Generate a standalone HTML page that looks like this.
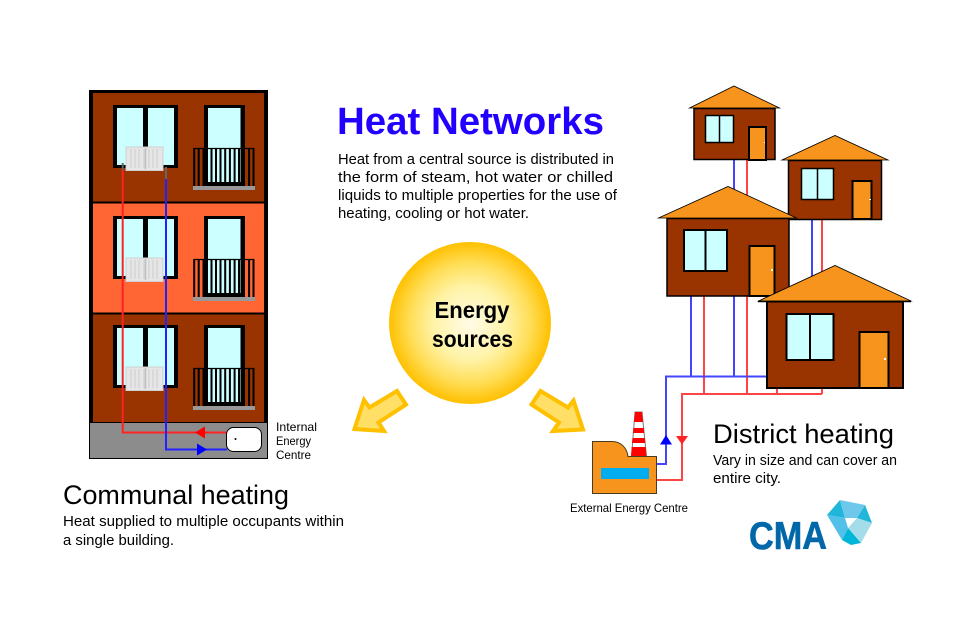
<!DOCTYPE html>
<html><head><meta charset="utf-8"><style>
html,body{margin:0;padding:0;background:#fff}
svg{display:block}
text{font-family:"Liberation Sans",sans-serif;fill:#000}
</style></head><body>
<svg width="960" height="640" viewBox="0 0 960 640" xmlns="http://www.w3.org/2000/svg">
<defs>
<radialGradient id="sun"><stop offset="0" stop-color="#fffbe6"/><stop offset=".45" stop-color="#fff3a8"/><stop offset=".75" stop-color="#ffdd55"/><stop offset="1" stop-color="#ffc000"/></radialGradient>
<g id="rad">
<rect x="126" y="147" width="37" height="23.500" fill="#e6e6e6" stroke="#cfcfcf"/>
<path d="M131 149v19M135 149v19M139 149v19M144 149v19M149 149v19M153 149v19M157 149v19" stroke="#cccccc" stroke-width="1"/>
<path d="M145.500 148v21" stroke="#c0c0c0" stroke-width="1.500"/>
</g>
<g id="win">
<rect x="113" y="105" width="65" height="63" fill="#000"/>
<rect x="117" y="108" width="26" height="57" fill="#ccffff"/>
<rect x="148" y="108" width="26" height="57" fill="#ccffff"/>
<rect x="204" y="105" width="41" height="81" fill="#000"/>
<rect x="208" y="108" width="32.500" height="74" fill="#ccffff"/>
<path d="M193.500 148.500H254.500" stroke="#000" stroke-width="1.200"/>
<path d="M194.200 148v38M198.700 148v38M203.500 148v38M249.100 148v38M253.500 148v38" stroke="#000" stroke-width="2"/>
<path d="M211.500 148v34M216 148v34M220.500 148v34M225.200 148v34M229.900 148v34M234.600 148v34M239 148v34" stroke="#000" stroke-width="2"/>
<rect x="193" y="186" width="62" height="4" fill="#999"/>
</g>
</defs>

<!-- Building -->
<rect x="89" y="90" width="179" height="333" fill="#000"/>
<rect x="93" y="93" width="171" height="108.500" fill="#993300"/>
<rect x="93" y="203.500" width="171" height="109" fill="#ff6633"/>
<rect x="93" y="314.500" width="171" height="107.500" fill="#993300"/>
<rect x="89.500" y="422.500" width="178" height="36" fill="#8c8c8c" stroke="#000"/>
<use href="#win"/>
<use href="#win" y="111"/>
<use href="#win" y="220"/>

<!-- Building pipes -->
<path d="M122.700 169V432.500H227" fill="none" stroke="#ff2222" stroke-width="2"/>
<path d="M166 179V449.500H227" fill="none" stroke="#2222ff" stroke-width="2"/>
<path d="M166 167V179M122.700 163V170" stroke="#666" stroke-width="2"/>
<use href="#rad"/>
<use href="#rad" y="111"/>
<use href="#rad" y="220"/>
<path d="M195 432.500L205 426.500V438.500Z" fill="#ff0000"/>
<path d="M207 449.500L197 443.500V455.500Z" fill="#0000ff"/>
<rect x="226.500" y="427.500" width="35" height="24" rx="7" fill="#fff" stroke="#000"/>
<circle cx="235.500" cy="439" r="1" fill="#000"/>
<text x="276" y="431" font-size="12" textLength="41" lengthAdjust="spacingAndGlyphs">Internal</text>
<text x="276" y="445" font-size="12" textLength="35" lengthAdjust="spacingAndGlyphs">Energy</text>
<text x="276" y="459" font-size="12" textLength="35" lengthAdjust="spacingAndGlyphs">Centre</text>

<!-- Title -->
<text x="337" y="134" font-size="38" font-weight="bold" style="fill:#2200ff" textLength="267" lengthAdjust="spacingAndGlyphs">Heat Networks</text>
<text x="338" y="164" font-size="14.500" textLength="276" lengthAdjust="spacingAndGlyphs">Heat from a central source is distributed in</text>
<text x="338" y="182" font-size="14.500" textLength="275" lengthAdjust="spacingAndGlyphs">the form of steam, hot water or chilled</text>
<text x="338" y="200" font-size="14.500" textLength="279" lengthAdjust="spacingAndGlyphs">liquids to multiple properties for the use of</text>
<text x="338" y="218" font-size="14.500" textLength="191" lengthAdjust="spacingAndGlyphs">heating, cooling or hot water.</text>

<!-- Sun -->
<circle cx="470" cy="323" r="81" fill="url(#sun)"/>
<text x="472" y="318" font-size="23" font-weight="bold" text-anchor="middle" textLength="75" lengthAdjust="spacingAndGlyphs">Energy</text>
<text x="472.500" y="347" font-size="23" font-weight="bold" text-anchor="middle" textLength="81" lengthAdjust="spacingAndGlyphs">sources</text>

<!-- Arrows -->
<path d="M354.500 429L364 400L369.500 407.500L397 391L406 404.500L378.500 422.500L384 431Z" fill="#ffdf66" stroke="#ffc000" stroke-width="4" stroke-linejoin="miter" stroke-miterlimit="6"/>
<path d="M583 429.500L573.500 400.500L568 407.500L540.500 391L531.500 404.500L559 422.500L553 431Z" fill="#ffdf66" stroke="#ffc000" stroke-width="4" stroke-linejoin="miter" stroke-miterlimit="6"/>

<!-- District pipes -->
<g fill="none" stroke-width="2">
<path d="M734 160V376M691 296V376M812 220V300" stroke="#4444ff"/>
<path d="M747 160V394M704 296V394M822 220V394M777 388V394" stroke="#ff4444"/>
<path d="M657 464H666V376.500H767" stroke="#4444ff"/>
<path d="M657 480H682V394H822" stroke="#ff4444"/>
</g>
<path d="M666 435L672 444.500H660Z" fill="#0000ff"/>
<path d="M682 444.500L688 436H676Z" fill="#ff2222"/>

<!-- Houses -->
<g stroke="#000">
<path d="M689.500 108L734 86L779.500 108Z" fill="#f7941d" stroke-width=".8" stroke-miterlimit="20"/>
<rect x="694" y="108.500" width="81" height="51" fill="#993300" stroke-width="1.500"/>
<rect x="705.500" y="115.500" width="28" height="27" fill="#ccffff" stroke-width="1.500"/>
<path d="M719.500 115V143" stroke-width="1.500"/>
<rect x="749" y="127" width="17" height="33" fill="#f7941d" stroke-width="2"/>

<path d="M782 160L835 135.500L888 160Z" fill="#f7941d" stroke-width=".8" stroke-miterlimit="20"/>
<rect x="788.500" y="160.500" width="93" height="59" fill="#993300" stroke-width="1.500"/>
<rect x="801.500" y="168.500" width="32" height="31" fill="#ccffff" stroke-width="1.500"/>
<path d="M817.500 168V200" stroke-width="1.500"/>
<rect x="852.500" y="181" width="19" height="38" fill="#f7941d" stroke-width="2"/>

<rect x="667" y="218.500" width="122" height="77.500" fill="#993300" stroke-width="1.500"/>
<path d="M658.500 218L728 186.500L796.500 218Z" fill="#f7941d" stroke-width=".8" stroke-miterlimit="20"/>
<rect x="684" y="230" width="43" height="41" fill="#ccffff" stroke-width="2"/>
<path d="M705.500 230V271" stroke-width="2"/>
<rect x="749.500" y="246" width="25" height="50" fill="#f7941d" stroke-width="2"/>

<rect x="767" y="301.500" width="136" height="86.500" fill="#993300" stroke-width="2"/>
<path d="M758.500 301L835 265.500L911 301Z" fill="#f7941d" stroke-width=".8" stroke-miterlimit="20"/>
<path d="M758 301.500H911" stroke-width="1.500"/>
<rect x="786.500" y="314" width="47" height="46" fill="#ccffff" stroke-width="2"/>
<path d="M810 314V360" stroke-width="2"/>
<rect x="859.500" y="332" width="29" height="56" fill="#f7941d" stroke-width="2"/>
</g>
<g fill="#fff">
<rect x="764" y="142" width="1" height="1"/><rect x="869" y="199" width="2" height="1"/>
<rect x="771" y="269" width="2" height="2"/><rect x="884" y="358" width="2" height="2"/>
</g>

<!-- Factory -->
<path d="M635 412H642L646.500 456.500H631.500Z" fill="#fff" stroke="#777" stroke-width="1"/>
<path d="M635 412H642L643 422H634ZM633.500 428H643.700L644.200 433H633ZM632.500 438H644.700L645.200 443H632ZM631.700 447H645.600L646.500 456.500H631Z" fill="#ff0000"/>
<path d="M592.500 441.500H612C621 441.500 627 448 628 456.500H656.500V493.500H592.500Z" fill="#f7941d" stroke="#4a3a20" stroke-width="1"/>
<rect x="601" y="468" width="48" height="11" fill="#00aeef"/>
<text x="570" y="512" font-size="12" textLength="118" lengthAdjust="spacingAndGlyphs">External Energy Centre</text>

<!-- Headings -->
<text x="63" y="504" font-size="27" textLength="226" lengthAdjust="spacingAndGlyphs">Communal heating</text>
<text x="63" y="526" font-size="14.500" textLength="281" lengthAdjust="spacingAndGlyphs">Heat supplied to multiple occupants within</text>
<text x="63" y="545" font-size="14.500" textLength="111" lengthAdjust="spacingAndGlyphs">a single building.</text>
<text x="713" y="443" font-size="27" textLength="181" lengthAdjust="spacingAndGlyphs">District heating</text>
<text x="713" y="465" font-size="14.500" textLength="184" lengthAdjust="spacingAndGlyphs">Vary in size and can cover an</text>
<text x="713" y="483" font-size="14.500" textLength="68" lengthAdjust="spacingAndGlyphs">entire city.</text>

<!-- Logo -->
<text x="749" y="549" font-size="39" font-weight="bold" style="fill:#0068a8;stroke:#0068a8;stroke-width:.6" textLength="78" lengthAdjust="spacingAndGlyphs">CMA</text>
<path d="M840 500L827 515L845 518Z" fill="#1fb6d9"/>
<path d="M840 500L865 505L857 518L845 518Z" fill="#6ec8ec"/>
<path d="M865 505L872 523L857 518Z" fill="#1fb6d9"/>
<path d="M872 523L861 543L848 528L857 518Z" fill="#a4dcea"/>
<path d="M848 528L861 543L851 545L842 540Z" fill="#00b5d8"/>
<path d="M827 515L845 518L848 528L842 540Z" fill="#52c0e8"/>
</svg>
</body></html>
